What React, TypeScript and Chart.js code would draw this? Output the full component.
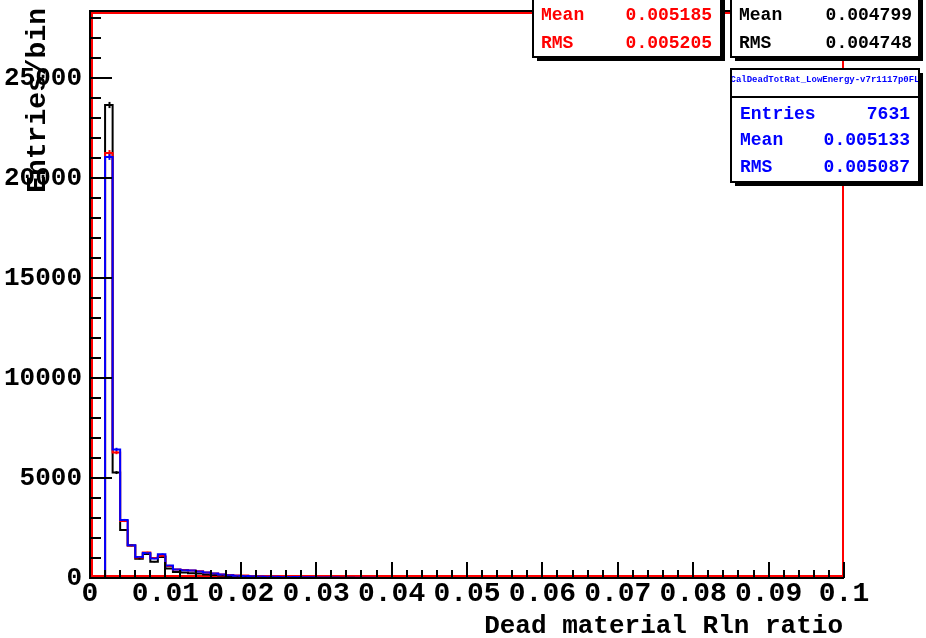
import { useEffect, useRef } from "react";
import { Chart, registerables } from "chart.js";

Chart.register(...registerables);

const FONT = "'Liberation Mono', 'Courier New', monospace";

// Histogram binning (x axis: Dead material Rln ratio)
const binWidth = 0.001;
const xMin = 0;
const xMax = 0.1;
const yMin = 0;
const yMax = 28350;

// Bin contents, 100 bins of width 0.001
const blackCounts = [
  0, 0, 23650, 5270, 2400, 1630, 960, 1200, 810, 1050,
  480, 300, 280, 240, 220, 180, 150, 120, 100, 80,
  70, 60, 55, 50, 45, 40, 35, 30, 25, 20,
  18, 15, 12, 10, 8, 6, 5, 4, 3, 2,
  2, 1, 1, 0, 0, 0, 0, 0, 0, 0,
  0, 0, 0, 0, 0, 0, 0, 0, 0, 0,
  0, 0, 0, 0, 0, 0, 0, 0, 0, 0,
  0, 0, 0, 0, 0, 0, 0, 0, 0, 0,
  0, 0, 0, 0, 0, 0, 0, 0, 0, 0,
  0, 0, 0, 0, 0, 0, 0, 0, 0, 0,
];

const redCounts = [
  0, 0, 21250, 6270, 2850, 1630, 1030, 1280, 1000, 1100,
  600, 420, 400, 380, 340, 280, 230, 180, 150, 130,
  120, 100, 90, 80, 70, 60, 55, 50, 45, 40,
  35, 30, 25, 20, 18, 15, 12, 10, 8, 6,
  5, 4, 3, 2, 2, 1, 1, 0, 0, 0,
  0, 0, 0, 0, 0, 0, 0, 0, 0, 0,
  0, 0, 0, 0, 0, 0, 0, 0, 0, 0,
  0, 0, 0, 0, 0, 0, 0, 0, 0, 0,
  0, 0, 0, 0, 0, 0, 0, 0, 0, 0,
  0, 0, 0, 0, 0, 0, 0, 0, 0, 0,
];

const blueCounts = [
  0, 0, 21050, 6430, 2900, 1640, 1050, 1250, 970, 1190,
  630, 430, 390, 380, 330, 270, 220, 170, 140, 110,
  100, 85, 75, 65, 60, 55, 50, 45, 40, 35,
  30, 25, 20, 18, 15, 12, 10, 8, 6, 5,
  4, 3, 2, 2, 1, 1, 0, 0, 0, 0,
  0, 0, 0, 0, 0, 0, 0, 0, 0, 0,
  0, 0, 0, 0, 0, 0, 0, 0, 0, 0,
  0, 0, 0, 0, 0, 0, 0, 0, 0, 0,
  0, 0, 0, 0, 0, 0, 0, 0, 0, 0,
  0, 0, 0, 0, 0, 0, 0, 0, 0, 0,
];

const xTickValues = [0, 0.01, 0.02, 0.03, 0.04, 0.05, 0.06, 0.07, 0.08, 0.09, 0.1];
const xTickLabels = ["0", "0.01", "0.02", "0.03", "0.04", "0.05", "0.06", "0.07", "0.08", "0.09", "0.1"];
const yTickValues = [0, 5000, 10000, 15000, 20000, 25000];
const yTickLabels = ["0", "5000", "10000", "15000", "20000", "25000"];

const xTitle = "Dead material Rln ratio";
const yTitle = "Entries/bin";

const redStatLabels = ["Mean", "RMS"];
const redStatValues = ["0.005185", "0.005205"];
const blackStatLabels = ["Mean", "RMS"];
const blackStatValues = ["0.004799", "0.004748"];
const blueStatTitle = "CalDeadTotRat_LowEnergy-v7r1117p0FL";
const blueStatLabels = ["Entries", "Mean", "RMS"];
const blueStatValues = ["7631", "0.005133", "0.005087"];

const RED = "#ff0000";
const BLUE = "#0000ff";
const BLACK = "#000000";

function toSteps(counts: number[]) {
  const pts = counts.map((v, i) => ({ x: xMin + i * binWidth, y: v }));
  pts.push({ x: xMax, y: counts[counts.length - 1] });
  return pts;
}

function drawBox(
  ctx: CanvasRenderingContext2D,
  x: number,
  y: number,
  w: number,
  h: number,
  color: string,
  labels: string[],
  values: string[],
  rowYs: number[],
  labelX: number,
  valueX: number,
  title?: string,
  titleY?: number,
  sepY?: number
) {
  ctx.save();
  ctx.fillStyle = BLACK;
  ctx.fillRect(x + 4, y + 4, w, h);
  ctx.fillStyle = "#ffffff";
  ctx.fillRect(x, y, w, h);
  ctx.strokeStyle = BLACK;
  ctx.lineWidth = 2;
  ctx.strokeRect(x, y, w, h);
  if (title && sepY !== undefined && titleY !== undefined) {
    ctx.beginPath();
    ctx.moveTo(x, sepY);
    ctx.lineTo(x + w, sepY);
    ctx.stroke();
    ctx.save();
    ctx.beginPath();
    ctx.rect(x + 1, y + 1, w - 2, sepY - y - 2);
    ctx.clip();
    ctx.fillStyle = color;
    ctx.font = `bold 9px ${FONT}`;
    ctx.textAlign = "center";
    ctx.textBaseline = "alphabetic";
    ctx.fillText(title, x + w / 2, titleY);
    ctx.restore();
  }
  ctx.fillStyle = color;
  ctx.font = `bold 18px ${FONT}`;
  ctx.textBaseline = "alphabetic";
  labels.forEach((lab, i) => {
    ctx.textAlign = "left";
    ctx.fillText(lab, labelX, rowYs[i]);
    ctx.textAlign = "right";
    ctx.fillText(values[i], valueX, rowYs[i]);
  });
  ctx.restore();
}

const rootPlugin = {
  id: "rootDecor",
  beforeDatasetsDraw(chart: any) {
    const { ctx, chartArea } = chart;
    ctx.save();
    ctx.strokeStyle = RED;
    ctx.lineWidth = 2;
    ctx.strokeRect(chartArea.left + 2, chartArea.top + 2, chartArea.right - chartArea.left - 3, chartArea.bottom - chartArea.top - 4);
    ctx.restore();
  },
  afterDatasetsDraw(chart: any) {
    const { ctx, chartArea } = chart;
    const xs = chart.scales.x;
    const ys = chart.scales.y;
    ctx.save();
    // error bars (drawn black, red, blue so blue ends on top)
    const order = [2, 1, 0];
    order.forEach((di) => {
      const ds = chart.data.datasets[di];
      const counts: number[] = ds.counts;
      ctx.strokeStyle = ds.borderColor;
      ctx.lineWidth = 2;
      counts.forEach((v, i) => {
        if (v <= 0) return;
        const e = Math.sqrt(v);
        const px = Math.round(xs.getPixelForValue(xMin + (i + 0.5) * binWidth)) + 0.5;
        ctx.beginPath();
        ctx.moveTo(px, ys.getPixelForValue(v + e));
        ctx.lineTo(px, ys.getPixelForValue(v - e));
        ctx.stroke();
      });
    });
    // axis lines
    ctx.strokeStyle = BLACK;
    ctx.lineWidth = 2;
    ctx.beginPath();
    ctx.moveTo(chartArea.left, chartArea.top);
    ctx.lineTo(chartArea.left, chartArea.bottom + 1);
    ctx.moveTo(chartArea.left - 1, chartArea.bottom);
    ctx.lineTo(chartArea.right, chartArea.bottom);
    ctx.moveTo(chartArea.left - 1, chartArea.top);
    ctx.lineTo(chartArea.right - 2, chartArea.top);
    ctx.stroke();
    // x ticks (inward)
    ctx.beginPath();
    for (let k = 0; k <= 50; k++) {
      const v = xMin + k * 0.002;
      const px = Math.round(xs.getPixelForValue(v));
      const len = k % 5 === 0 ? 16 : 8;
      ctx.moveTo(px, chartArea.bottom);
      ctx.lineTo(px, chartArea.bottom - len);
    }
    // y ticks (inward)
    for (let k = 0; k * 1000 <= yMax; k++) {
      const v = k * 1000;
      const py = Math.round(ys.getPixelForValue(v));
      const len = k % 5 === 0 ? 22 : 11;
      ctx.moveTo(chartArea.left, py);
      ctx.lineTo(chartArea.left + len, py);
    }
    ctx.stroke();
    ctx.restore();
  },
  afterDraw(chart: any) {
    const { ctx, chartArea } = chart;
    ctx.save();
    ctx.fillStyle = BLACK;
    ctx.font = `bold 26px ${FONT}`;
    ctx.textAlign = "right";
    ctx.textBaseline = "alphabetic";
    ctx.fillText(xTitle, chartArea.right - 1, 633);
    ctx.save();
    ctx.translate(45, 8);
    ctx.rotate(-Math.PI / 2);
    ctx.font = `bold 28px ${FONT}`;
    ctx.textAlign = "right";
    ctx.fillText(yTitle, 0, 0);
    ctx.restore();
    ctx.restore();

    drawBox(ctx, 533, -30, 188, 87, RED, redStatLabels, redStatValues, [20, 48], 541, 712);
    drawBox(ctx, 731, -30, 188, 87, BLACK, blackStatLabels, blackStatValues, [20, 48], 739, 912);
    drawBox(ctx, 731, 69, 188, 113, BLUE, blueStatLabels, blueStatValues, [119, 145, 172], 740, 910, blueStatTitle, 82, 97);
  },
};

export default function App() {
  const ref = useRef<HTMLCanvasElement | null>(null);

  useEffect(() => {
    if (!ref.current) return;
    const chart = new Chart(ref.current, {
      type: "line",
      data: {
        datasets: [
          {
            label: "blue",
            data: toSteps(blueCounts),
            counts: blueCounts,
            borderColor: BLUE,
            borderWidth: 2,
            stepped: "before",
            pointRadius: 0,
            fill: false,
          } as any,
          {
            label: "red",
            data: toSteps(redCounts),
            counts: redCounts,
            borderColor: RED,
            borderWidth: 2,
            stepped: "before",
            pointRadius: 0,
            fill: false,
          } as any,
          {
            label: "black",
            data: toSteps(blackCounts),
            counts: blackCounts,
            borderColor: BLACK,
            borderWidth: 2,
            stepped: "before",
            pointRadius: 0,
            fill: false,
          } as any,
        ],
      },
      options: {
        animation: false,
        responsive: false,
        devicePixelRatio: 1,
        layout: { padding: { left: 0, top: 11, right: 82, bottom: 0 } },
        plugins: { legend: { display: false }, tooltip: { enabled: false } },
        scales: {
          x: {
            type: "linear",
            min: xMin,
            max: xMax,
            grid: { display: false, drawTicks: false },
            border: { display: false },
            afterBuildTicks: (s: any) => {
              s.ticks = xTickValues.map((v) => ({ value: v }));
            },
            ticks: {
              autoSkip: false,
              maxRotation: 0,
              minRotation: 0,
              padding: -1,
              color: BLACK,
              font: { family: FONT, size: 28, weight: "bold" },
              callback: (v: any, i: number) => xTickLabels[i] ?? "",
            },
            afterFit: (s: any) => {
              s.height = 60;
              s.paddingLeft = 0;
              s.paddingRight = 0;
            },
          },
          y: {
            type: "linear",
            min: yMin,
            max: yMax,
            grid: { display: false, drawTicks: false },
            border: { display: false },
            afterBuildTicks: (s: any) => {
              s.ticks = yTickValues.map((v) => ({ value: v }));
            },
            ticks: {
              autoSkip: false,
              padding: 8,
              color: BLACK,
              font: { family: FONT, size: 26, weight: "bold" },
              callback: (v: any, i: number) => yTickLabels[i] ?? "",
            },
            afterFit: (s: any) => {
              s.width = 90;
              s.paddingTop = 0;
              s.paddingBottom = 0;
            },
          },
        },
      },
      plugins: [rootPlugin],
    } as any);
    return () => chart.destroy();
  }, []);

  return (
    <div style={{ position: "fixed", left: 0, top: 0, width: 926, height: 638, background: "#ffffff" }}>
      <canvas ref={ref} width={926} height={638} style={{ display: "block" }} />
    </div>
  );
}
